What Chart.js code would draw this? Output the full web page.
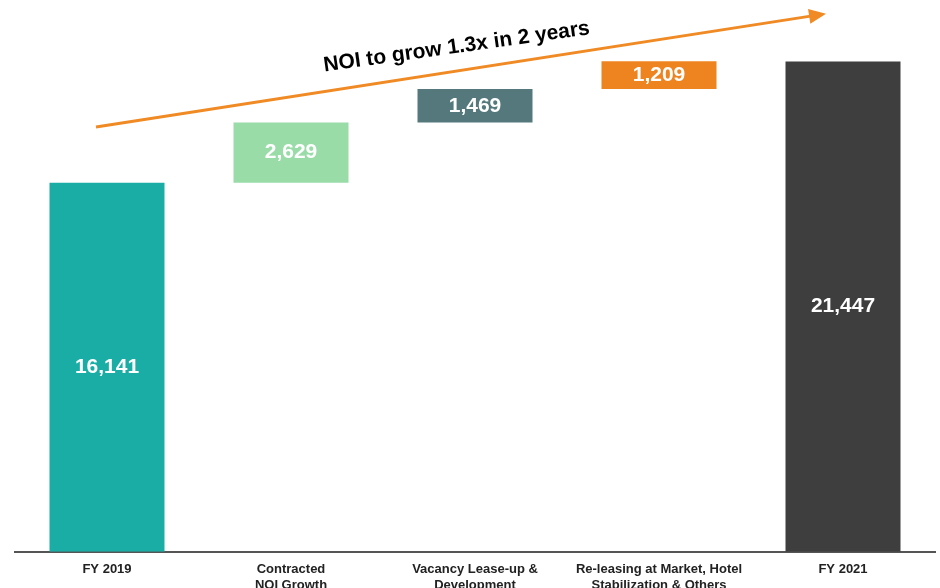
<!DOCTYPE html>
<html>
<head>
<meta charset="utf-8">
<script src="https://cdn.jsdelivr.net/npm/chart.js@4.4.0/dist/chart.umd.min.js"></script>
<style>
  html, body { margin: 0; padding: 0; background: #fff; overflow: hidden; }
  #wrap { width: 940px; height: 612px; position: relative; }
</style>
</head>
<body>
<div id="wrap"><canvas id="chart"></canvas></div>
<script>
// categories and values of the NOI bridge
const categories = [
  'FY 2019',
  ['Contracted', 'NOI Growth'],
  ['Vacancy Lease-up &', 'Development'],
  ['Re-leasing at Market, Hotel', 'Stabilization & Others'],
  'FY 2021'
];
const values = [16141, 2629, 1469, 1209, 21447];
const isTotal = [true, false, false, false, true];
const barColors = ['#19ada6', '#99dca8', '#55787c', '#ee8420', '#3e3e3e'];
const arrowText = 'NOI to grow 1.3x in 2 years';

// waterfall: totals start at 0, steps float on the running sum
let running = 0;
const floating = values.map((v, i) => {
  if (isTotal[i]) { running = v; return [0, v]; }
  const seg = [running, running + v];
  running += v;
  return seg;
});

const barLabels = {
  id: 'barLabels',
  afterDatasetsDraw(chart) {
    const ctx = chart.ctx;
    const meta = chart.getDatasetMeta(0);
    ctx.save();
    ctx.fillStyle = '#ffffff';
    ctx.font = 'bold 21px "Liberation Sans", Arial, sans-serif';
    ctx.textAlign = 'center';
    ctx.textBaseline = 'middle';
    meta.data.forEach((bar, i) => {
      const y = (bar.y + bar.base) / 2;
      ctx.fillText(values[i].toLocaleString('en-US'), bar.x, y);
    });
    ctx.restore();
  }
};

// growth arrow across the top of the chart
const growthArrow = {
  id: 'growthArrow',
  afterDraw(chart) {
    const { ctx, scales: { x, y } } = chart;
    const x0 = x.getPixelForValue(0) - 11, y0 = y.getPixelForValue(18580);
    const x1 = x.getPixelForValue(4) - 17, y1 = y.getPixelForValue(23530);
    const ang = Math.atan2(y1 - y0, x1 - x0);
    ctx.save();
    ctx.strokeStyle = '#f08a24';
    ctx.fillStyle = '#f08a24';
    ctx.lineWidth = 3;
    ctx.beginPath();
    ctx.moveTo(x0, y0);
    ctx.lineTo(x1 - 14 * Math.cos(ang), y1 - 14 * Math.sin(ang));
    ctx.stroke();
    ctx.translate(x1, y1);
    ctx.rotate(ang);
    ctx.beginPath();
    ctx.moveTo(0, 0);
    ctx.lineTo(-17, -7.5);
    ctx.lineTo(-17, 7.5);
    ctx.closePath();
    ctx.fill();
    ctx.restore();

    // text above the arrow
    const t = 0.494;
    const mx = x0 + (x1 - x0) * t, my = y0 + (y1 - y0) * t;
    ctx.save();
    ctx.translate(mx, my - 24);
    ctx.rotate(-8 * Math.PI / 180);
    ctx.fillStyle = '#000000';
    ctx.font = 'bold 21px "Liberation Sans", Arial, sans-serif';
    ctx.textAlign = 'center';
    ctx.textBaseline = 'middle';
    ctx.fillText(arrowText, 0, 0);
    ctx.restore();
  }
};

new Chart(document.getElementById('chart'), {
  type: 'bar',
  data: {
    labels: categories,
    datasets: [{
      data: floating,
      backgroundColor: barColors,
      borderWidth: 0,
      categoryPercentage: 1,
      barPercentage: 0.625
    }]
  },
  options: {
    responsive: true,
    maintainAspectRatio: false,
    animation: false,
    layout: { padding: { left: 15, right: 5, top: 3, bottom: 9 } },
    plugins: {
      legend: { display: false },
      tooltip: { enabled: false }
    },
    scales: {
      x: {
        grid: { display: false, drawTicks: false },
        border: { display: true, color: '#555555', width: 2 },
        ticks: {
          color: '#222222',
          padding: 10,
          maxRotation: 0,
          autoSkip: false,
          font: { family: '"Liberation Sans", Arial, sans-serif', size: 13, weight: 'bold', lineHeight: 1.2 }
        }
      },
      y: {
        display: false,
        min: 0,
        max: 24000
      }
    }
  },
  plugins: [barLabels, growthArrow]
});
</script>
</body>
</html>
